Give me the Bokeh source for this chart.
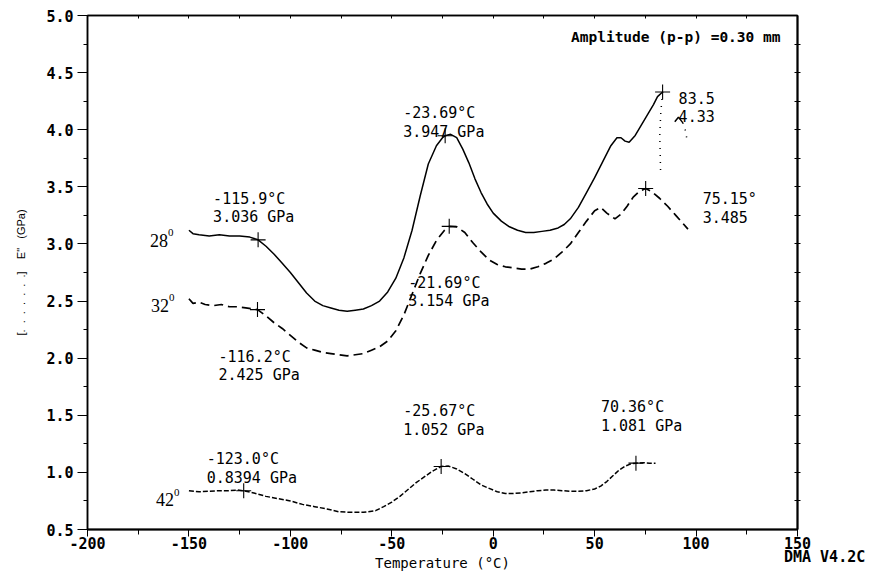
from bokeh.plotting import figure
from bokeh.models import Range1d, FixedTicker, LinearAxis
from bokeh.core.properties import value
from bokeh.embed import file_html
from bokeh.resources import INLINE

# ---------------- data ----------------
T28 = [-150, -148, -145, -140, -135, -130, -125, -120, -115.9, -112, -108, -104, -100, -96, -92, -88,
       -84, -80, -76, -72, -68, -64, -60, -56, -52, -48, -44, -40, -36, -32, -28, -25, -23.69, -21,
       -18, -15, -12, -9, -6, -3, 0, 4, 8, 12, 16, 20, 24, 28, 32, 35, 38, 42, 46, 50, 54, 58, 61,
       63, 65, 67, 70, 73, 76, 79, 81, 83.5]
E28 = [3.12, 3.09, 3.08, 3.07, 3.08, 3.07, 3.07, 3.06, 3.036, 2.98, 2.91, 2.83, 2.75, 2.66, 2.57, 2.50,
       2.46, 2.44, 2.42, 2.41, 2.42, 2.43, 2.46, 2.50, 2.58, 2.70, 2.88, 3.12, 3.42, 3.70, 3.86, 3.93, 3.947, 3.96,
       3.93, 3.83, 3.71, 3.57, 3.45, 3.35, 3.27, 3.20, 3.15, 3.12, 3.10, 3.10, 3.11, 3.12, 3.14, 3.17, 3.22, 3.32,
       3.45, 3.58, 3.72, 3.86, 3.93, 3.93, 3.90, 3.89, 3.95, 4.04, 4.13, 4.22, 4.29, 4.33]
# dotted tail of the 28 deg curve
T28_dot1 = [83.5, 82.6, 82.1, 82.3, 82.5]
E28_dot1 = [4.33, 4.15, 3.95, 3.80, 3.64]
T28_arc = [89.5, 91.3, 93.5]
E28_arc = [4.07, 4.11, 4.06]
T28_dot2 = [93.5, 95.0, 95.7]
E28_dot2 = [4.06, 3.98, 3.88]

T32 = [-150, -148, -145, -142, -138, -134, -130, -126, -122, -118, -116.2, -112, -108, -104, -100, -96,
       -92, -88, -84, -80, -76, -72, -68, -64, -60, -56, -52, -48, -44, -40, -36, -32, -28, -24, -21.69,
       -18, -14, -10, -6, -2, 2, 6, 10, 14, 18, 22, 26, 30, 34, 38, 42, 46, 50, 53, 56, 60, 63, 66, 69,
       72, 75.15, 78, 82, 86, 90, 93, 96]
E32 = [2.52, 2.48, 2.49, 2.47, 2.46, 2.47, 2.45, 2.45, 2.44, 2.43, 2.425, 2.37, 2.31, 2.26, 2.20, 2.14,
       2.09, 2.07, 2.05, 2.04, 2.03, 2.02, 2.03, 2.04, 2.07, 2.10, 2.15, 2.24, 2.38, 2.56, 2.74, 2.90, 3.03,
       3.12, 3.154, 3.15, 3.10, 3.01, 2.93, 2.86, 2.82, 2.80, 2.79, 2.78, 2.78, 2.80, 2.83, 2.87, 2.93, 3.00,
       3.10, 3.20, 3.29, 3.32, 3.27, 3.22, 3.26, 3.33, 3.41, 3.46, 3.485, 3.46, 3.40, 3.33, 3.25, 3.19, 3.13]

T42 = [-150, -145, -140, -135, -130, -126, -123.0, -118, -112, -106, -100, -94, -88, -82, -76, -70, -64,
       -58, -54, -50, -46, -42, -38, -34, -30, -25.67, -22, -18, -14, -10, -6, -2, 2, 6, 10, 14, 18, 22,
       26, 30, 34, 38, 42, 46, 50, 53, 56, 59, 62, 65, 68, 70.36, 74, 77, 80]
E42 = [0.84, 0.83, 0.835, 0.84, 0.84, 0.845, 0.8394, 0.82, 0.79, 0.77, 0.75, 0.72, 0.70, 0.68, 0.655, 0.65,
       0.65, 0.665, 0.70, 0.74, 0.79, 0.85, 0.91, 0.96, 1.01, 1.052, 1.055, 1.03, 0.99, 0.94, 0.89, 0.86,
       0.83, 0.815, 0.815, 0.82, 0.83, 0.84, 0.845, 0.845, 0.84, 0.835, 0.835, 0.84, 0.855, 0.88, 0.92,
       0.97, 1.02, 1.055, 1.075, 1.081, 1.085, 1.08, 1.08]

# marked peaks / onsets
PK_T = [-115.9, -23.69, 83.5, -116.2, -21.69, 75.15, -123.0, -25.67, 70.36]
PK_E = [3.036, 3.947, 4.33, 2.425, 3.154, 3.485, 0.8394, 1.052, 1.081]
PK_LINE1 = ["-115.9°C", "-23.69°C", "83.5", "-116.2°C", "-21.69°C", "75.15°",
            "-123.0°C", "-25.67°C", "70.36°C"]
PK_LINE2 = ["3.036 GPa", "3.947 GPa", "4.33", "2.425 GPa", "3.154 GPa", "3.485",
            "0.8394 GPa", "1.052 GPa", "1.081 GPa"]

CURVE_NAMES = ["28", "32", "42"]
CURVE_START_T = [T28[0], T32[0], T42[0]]
CURVE_START_E = [E28[0], E32[0], E42[0]]

XTICKS = [-200, -150, -100, -50, 0, 50, 100, 150]
XTICK_LABELS = ["-200", "-150", "-100", "-50", "0", "50", "100", "150"]
YTICKS = [0.5, 1.0, 1.5, 2.0, 2.5, 3.0, 3.5, 4.0, 4.5, 5.0]
YTICK_LABELS = ["0.5", "1.0", "1.5", "2.0", "2.5", "3.0", "3.5", "4.0", "4.5", "5.0"]
VERSION_NOTE = "DMA V4.2C"

# ---------------- styling offsets (screen px) ----------------
LBL_DX = [-45, -42, 16, -39, -41, 57, -37, -38, -35]
LBL_DY1 = [-41, -23, 6, 47, 57, 10, -32, -55, -56]
LBL_DY2 = [-23, -4, 24, 65, 75, 28, -13, -36, -37]
NAME_DX = [-21, -20, -15]
NAME_DY = [10, 7, 9]
SUP_DY = [2, -1, 2]

MONO = "DejaVu Sans Mono"
nb = "\u00a0"

p = figure(width=874, height=576, x_range=Range1d(-200, 150), y_range=Range1d(0.5, 5.0),
           output_backend="svg", toolbar_location=None,
           min_border_left=87, min_border_right=77, min_border_top=15, min_border_bottom=47)
p.xgrid.visible = False
p.ygrid.visible = False
p.outline_line_color = "black"
p.outline_line_width = 1.5
p.background_fill_color = "white"
p.border_fill_color = "white"

# bottom axis; the version note sits under the last tick label
xa = p.xaxis[0]
xa.ticker = FixedTicker(ticks=XTICKS, minor_ticks=[-175, -125, -75, -25, 25, 75, 125])
overrides = {t: l for t, l in zip(XTICKS, XTICK_LABELS)}
overrides[XTICKS[-1]] = XTICK_LABELS[-1] + "\n" + nb * 6 + VERSION_NOTE
xa.major_label_overrides = overrides
xa.axis_line_width = 2
xa.major_tick_in = 0
xa.major_tick_out = 7
xa.minor_tick_in = 0
xa.minor_tick_out = 5
xa.major_label_standoff = -2
xa.major_label_text_font = MONO
xa.major_label_text_font_size = "15px"
xa.major_label_text_font_style = "bold"
xa.major_label_text_color = "black"
xa.major_label_text_line_height = 0.75
xa.axis_label = "Temperature (°C)"
xa.axis_label_text_font = MONO
xa.axis_label_text_font_size = "14px"
xa.axis_label_text_font_style = "normal"
xa.axis_label_text_color = "black"
xa.axis_label_standoff = -14

# left axis
ya = p.yaxis[0]
ya.ticker = FixedTicker(ticks=YTICKS, minor_ticks=[0.75 + 0.5 * i for i in range(9)])
ya.major_label_overrides = {t: l for t, l in zip(YTICKS, YTICK_LABELS)}
ya.axis_line_width = 1.5
ya.major_tick_in = 0
ya.major_tick_out = 10
ya.minor_tick_in = 0
ya.minor_tick_out = 4
ya.major_label_standoff = 4
ya.major_label_text_font = MONO
ya.major_label_text_font_size = "15px"
ya.major_label_text_font_style = "bold"
ya.major_label_text_color = "black"
ya.axis_label = "[" + (nb * 2).join(["."] * 7) + "]" + nb * 4 + 'E"' + nb * 3 + "(GPa)"
ya.axis_label_text_font = "Liberation Sans"
ya.axis_label_text_font_size = "11px"
ya.axis_label_text_font_style = "normal"
ya.axis_label_text_color = "black"
ya.axis_label_standoff = 16

# right axis (ticks only, minor ticks so no labels are drawn)
ra = LinearAxis(ticker=FixedTicker(ticks=[], minor_ticks=[0.75 + 0.25 * i for i in range(17)]),
                minor_tick_in=3, minor_tick_out=3, axis_line_width=2,
                major_tick_in=0, major_tick_out=0, major_label_standoff=0)
p.add_layout(ra, "right")
# top axis (ticks only)
ta = LinearAxis(ticker=FixedTicker(ticks=[], minor_ticks=[-175 + 25 * i for i in range(13)]),
                minor_tick_in=3, minor_tick_out=0, axis_line_width=1.5,
                major_tick_in=0, major_tick_out=0, major_label_standoff=0)
p.add_layout(ta, "above")

# curves
p.line(T28, E28, line_color="black", line_width=1.5)
p.line(T28_dot1, E28_dot1, line_color="black", line_width=1.5, line_dash="1 6")
p.line(T28_arc, E28_arc, line_color="black", line_width=1.5)
p.line(T28_dot2, E28_dot2, line_color="black", line_width=1.5, line_dash="1 6")
p.line(T32, E32, line_color="black", line_width=1.7, line_dash="9 5")
p.line(T42, E42, line_color="black", line_width=1.5, line_dash="5 2")

# markers
p.scatter(PK_T, PK_E, marker="cross", size=15, line_color="black", line_width=1.1)

# annotations
for t, e, l1, l2, dx, dy1, dy2 in zip(PK_T, PK_E, PK_LINE1, PK_LINE2, LBL_DX, LBL_DY1, LBL_DY2):
    p.text([t], [e], text=[l1], x_offset=dx, y_offset=dy1, text_font=value(MONO),
           text_font_size="15px", text_color="black", text_baseline="alphabetic", text_align="left")
    p.text([t], [e], text=[l2], x_offset=dx, y_offset=dy2, text_font=value(MONO),
           text_font_size="15px", text_color="black", text_baseline="alphabetic", text_align="left")

for n, t, e, dx, dy, sdy in zip(CURVE_NAMES, CURVE_START_T, CURVE_START_E, NAME_DX, NAME_DY, SUP_DY):
    p.text([t], [e], text=[n], x_offset=dx, y_offset=dy, text_font=value("Liberation Serif"),
           text_font_size="18px", text_color="black", text_baseline="alphabetic", text_align="right")
    p.text([t], [e], text=["0"], x_offset=dx, y_offset=sdy, text_font=value("Liberation Serif"),
           text_font_size="11px", text_color="black", text_baseline="alphabetic", text_align="left")

p.text([150], [5.0], text=["Amplitude (p-p) =0.30 mm"], x_offset=-17, y_offset=21,
       text_font=value(MONO), text_font_size="14.5px", text_font_style="bold",
       text_color="black", text_baseline="alphabetic", text_align="right")

open("out.html", "w").write(file_html(p, INLINE))
